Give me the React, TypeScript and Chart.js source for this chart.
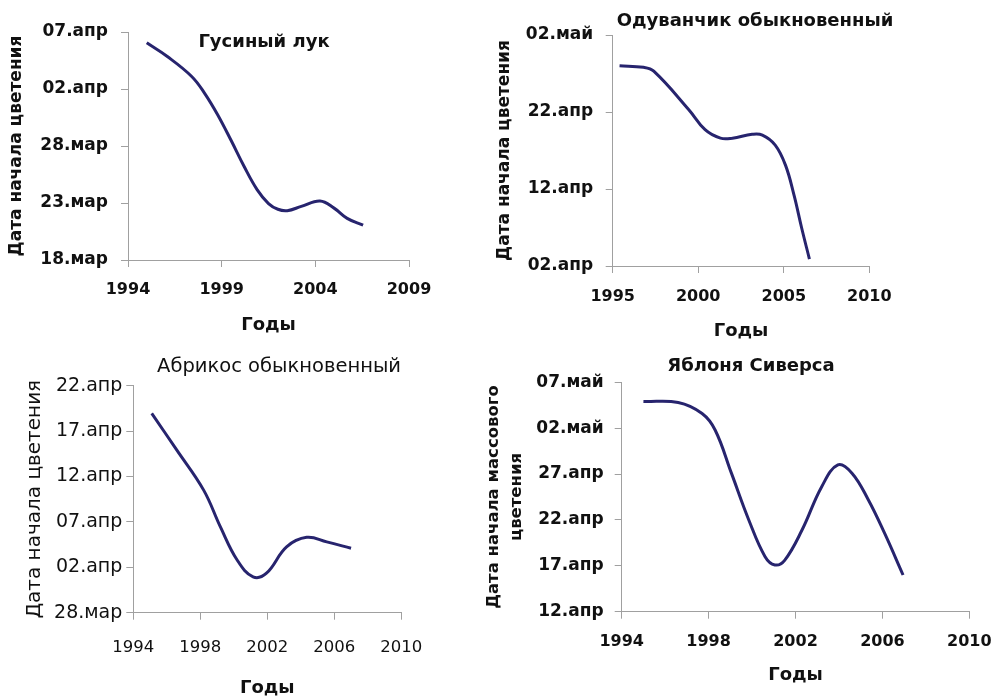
import React, { useEffect, useRef } from "react";
import { Chart, registerables } from "chart.js";

Chart.register(...registerables);
Chart.defaults.font.family = "'DejaVu Sans', 'Liberation Sans', sans-serif";

// ---------- DATA ----------
// Гусиный лук (days counted from 18.мар)
const gooseYears = [1995.0, 1996.1, 1997.4, 1998.1, 1998.8, 1999.5, 2000.2, 2000.9, 2001.5, 2002.0, 2002.5, 2003.25, 2004.25, 2005.0, 2005.7, 2006.55];
const gooseDays = [19.05, 17.85, 16.1, 14.6, 12.7, 10.5, 8.2, 6.15, 4.95, 4.45, 4.33, 4.7, 5.18, 4.55, 3.65, 3.05];
const gooseYTicks = ["18.мар", "23.мар", "28.мар", "02.апр", "07.апр"];
const gooseXTicks = [1994, 1999, 2004, 2009];

// Одуванчик обыкновенный (days counted from 02.апр)
const dandYears = [1995.4, 1996.8, 1997.4, 1999.45, 2000.4, 2001.3, 2002.0, 2003.15, 2003.75, 2004.5, 2005.1, 2005.6, 2006.05, 2006.5];
const dandDays = [26.0, 25.8, 25.3, 20.3, 17.7, 16.6, 16.6, 17.1, 17.0, 15.7, 13.1, 9.2, 4.9, 0.9];
const dandYTicks = ["02.апр", "12.апр", "22.апр", "02.май"];
const dandXTicks = [1995, 2000, 2005, 2010];

// Абрикос обыкновенный (days counted from 28.мар)
const apriYears = [1995.1, 1996.6, 1998.2, 1999.2, 2000.2, 2001.15, 2001.95, 2003.15, 2004.35, 2005.55, 2007.0];
const apriDays = [21.95, 17.9, 13.5, 9.45, 5.8, 3.95, 4.35, 7.25, 8.3, 7.8, 7.1];
const apriYTicks = ["28.мар", "02.апр", "07.апр", "12.апр", "17.апр", "22.апр"];
const apriXTicks = [1994, 1998, 2002, 2006, 2010];

// Яблоня Сиверса (days counted from 12.апр)
const appleYears = [1995.0, 1996.6, 1997.7, 1998.3, 1999.05, 1999.85, 2000.6, 2001.05, 2001.5, 2002.3, 2003.2, 2003.95, 2004.6, 2005.35, 2006.1, 2006.95];
const appleDays = [22.9, 22.8, 21.6, 19.8, 15.1, 10.0, 6.0, 5.1, 5.6, 8.9, 13.6, 16.0, 15.1, 12.2, 8.55, 4.0];
const appleYTicks = ["12.апр", "17.апр", "22.апр", "27.апр", "02.май", "07.май"];
const appleXTicks = [1994, 1998, 2002, 2006, 2010];

const LINE_COLOR = "#27246e";
const AXIS_COLOR = "#a0a0a0";

const titlePlugin = {
  id: "panelTitle",
  afterDraw(chart: any, _args: any, opts: any) {
    if (!opts || !opts.text) return;
    const ctx = chart.ctx;
    ctx.save();
    ctx.font = opts.font;
    ctx.fillStyle = "#111";
    ctx.textAlign = "center";
    ctx.textBaseline = "middle";
    ctx.fillText(opts.text, opts.x, opts.y);
    ctx.restore();
  },
};

type Panel = {
  left: number; top: number; w: number; h: number;
  years: number[]; days: number[];
  yTicks: string[]; yStep: number;
  xTicks: number[];
  pad: { left: number; top: number; right: number; bottom: number };
  yWidth: number; xHeight: number;
  title: string; titleX: number; titleY: number; titleFont: string;
  yTitle: string | string[]; yTitleFont: any; yTitlePad: number;
  xTitlePad: number; xTitleFont: any;
  tickWeight: string; yTickSize: number; xTickSize: number;
  yTickPad: number; xTickPad: number;
};

function buildConfig(p: Panel): any {
  const data = p.years.map((x, i) => ({ x, y: p.days[i] }));
  return {
    type: "line",
    data: {
      datasets: [
        {
          data,
          borderColor: LINE_COLOR,
          borderWidth: 3,
          pointRadius: 0,
          fill: false,
          tension: 0.4,
        },
      ],
    },
    plugins: [titlePlugin],
    options: {
      responsive: false,
      animation: false,
      layout: { padding: p.pad },
      plugins: {
        legend: { display: false },
        tooltip: { enabled: false },
        panelTitle: { text: p.title, x: p.titleX, y: p.titleY, font: p.titleFont },
      },
      scales: {
        x: {
          type: "linear",
          min: p.xTicks[0],
          max: p.xTicks[p.xTicks.length - 1],
          ticks: {
            stepSize: p.xTicks[1] - p.xTicks[0],
            color: "#111",
            font: { size: p.xTickSize, weight: p.tickWeight },
            padding: p.xTickPad,
            maxRotation: 0,
            callback: (v: number) => (p.xTicks.includes(v) ? String(v) : ""),
          },
          grid: { display: true, drawOnChartArea: false, drawTicks: true, tickLength: 7, color: AXIS_COLOR },
          border: { display: true, color: AXIS_COLOR, width: 1 },
          title: {
            display: true,
            text: "Годы",
            color: "#111",
            font: p.xTitleFont,
            padding: { top: 0, bottom: p.xTitlePad },
          },
          afterFit: (s: any) => {
            s.height = p.xHeight;
            s.paddingLeft = 0;
            s.paddingRight = 0;
          },
        },
        y: {
          type: "linear",
          min: 0,
          max: (p.yTicks.length - 1) * p.yStep,
          ticks: {
            stepSize: p.yStep,
            color: "#111",
            font: { size: p.yTickSize, weight: p.tickWeight },
            padding: p.yTickPad,
            callback: (v: number) => p.yTicks[Math.round(v / p.yStep)] ?? "",
          },
          grid: { display: true, drawOnChartArea: false, drawTicks: true, tickLength: 7, color: AXIS_COLOR },
          border: { display: true, color: AXIS_COLOR, width: 1 },
          title: {
            display: true,
            text: p.yTitle,
            color: "#111",
            font: p.yTitleFont,
            padding: { top: p.yTitlePad, bottom: 0 },
          },
          afterFit: (s: any) => {
            s.width = p.yWidth;
            s.paddingTop = 0;
            s.paddingBottom = 0;
          },
        },
      },
    },
  };
}

const panels: Panel[] = [
  {
    left: 0, top: 0, w: 480, h: 345,
    years: gooseYears, days: gooseDays, yTicks: gooseYTicks, yStep: 5, xTicks: gooseXTicks,
    pad: { left: 0, top: 32, right: 71, bottom: 0 }, yWidth: 128, xHeight: 85,
    title: "Гусиный лук", titleX: 264, titleY: 42, titleFont: "bold 18px 'DejaVu Sans'",
    yTitle: "Дата начала цветения", yTitleFont: { size: 17, weight: "bold", lineHeight: 1.2 }, yTitlePad: 6.8,
    xTitlePad: 9.2, xTitleFont: { size: 18, weight: "bold", lineHeight: 1.2 },
    tickWeight: "bold", yTickSize: 17, xTickSize: 16, yTickPad: 13, xTickPad: 13,
  },
  {
    left: 480, top: 0, w: 513, h: 345,
    years: dandYears, days: dandDays, yTicks: dandYTicks, yStep: 10, xTicks: dandXTicks,
    pad: { left: 0, top: 35, right: 123.7, bottom: 0 }, yWidth: 132.7, xHeight: 79,
    title: "Одуванчик обыкновенный", titleX: 275, titleY: 21, titleFont: "bold 18px 'DejaVu Sans'",
    yTitle: "Дата начала цветения", yTitleFont: { size: 17, weight: "bold", lineHeight: 1.2 }, yTitlePad: 14.8,
    xTitlePad: 2.5, xTitleFont: { size: 18, weight: "bold", lineHeight: 1.2 },
    tickWeight: "bold", yTickSize: 17, xTickSize: 16, yTickPad: 12.5, xTickPad: 14,
  },
  {
    left: 0, top: 345, w: 480, h: 351,
    years: apriYears, days: apriDays, yTicks: apriYTicks, yStep: 5, xTicks: apriXTicks,
    pad: { left: 0, top: 40.7, right: 78.7, bottom: 0 }, yWidth: 133.3, xHeight: 83.3,
    title: "Абрикос обыкновенный", titleX: 279, titleY: 22, titleFont: "19.5px 'DejaVu Sans'",
    yTitle: "Дата начала цветения", yTitleFont: { size: 20, weight: "normal", lineHeight: 1.2 }, yTitlePad: 23,
    xTitlePad: 0, xTitleFont: { size: 18, weight: "bold", lineHeight: 0.9 },
    tickWeight: "normal", yTickSize: 19, xTickSize: 16.5, yTickPad: 4, xTickPad: 18,
  },
  {
    left: 480, top: 345, w: 513, h: 351,
    years: appleYears, days: appleDays, yTicks: appleYTicks, yStep: 5, xTicks: appleXTicks,
    pad: { left: 0, top: 37.3, right: 23.7, bottom: 0 }, yWidth: 141.7, xHeight: 84.3,
    title: "Яблоня Сиверса", titleX: 271, titleY: 21, titleFont: "bold 18px 'DejaVu Sans'",
    yTitle: ["Дата начала массового", "цветения"], yTitleFont: { size: 16.5, weight: "bold", lineHeight: 1.45 }, yTitlePad: 1.3,
    xTitlePad: 10.2, xTitleFont: { size: 18, weight: "bold", lineHeight: 1.2 },
    tickWeight: "bold", yTickSize: 17, xTickSize: 16, yTickPad: 11, xTickPad: 13.4,
  },
];

function PanelChart({ p }: { p: Panel }) {
  const ref = useRef<HTMLCanvasElement>(null);
  useEffect(() => {
    if (!ref.current) return;
    const chart = new Chart(ref.current, buildConfig(p));
    return () => chart.destroy();
  }, [p]);
  return (
    <canvas
      ref={ref}
      width={p.w}
      height={p.h}
      style={{ position: "absolute", left: p.left, top: p.top, width: p.w, height: p.h }}
    />
  );
}

export default function App() {
  return (
    <div style={{ position: "absolute", left: 0, top: 0, width: 993, height: 696, background: "#fff", overflow: "hidden" }}>
      {panels.map((p, i) => (
        <PanelChart key={i} p={p} />
      ))}
    </div>
  );
}
